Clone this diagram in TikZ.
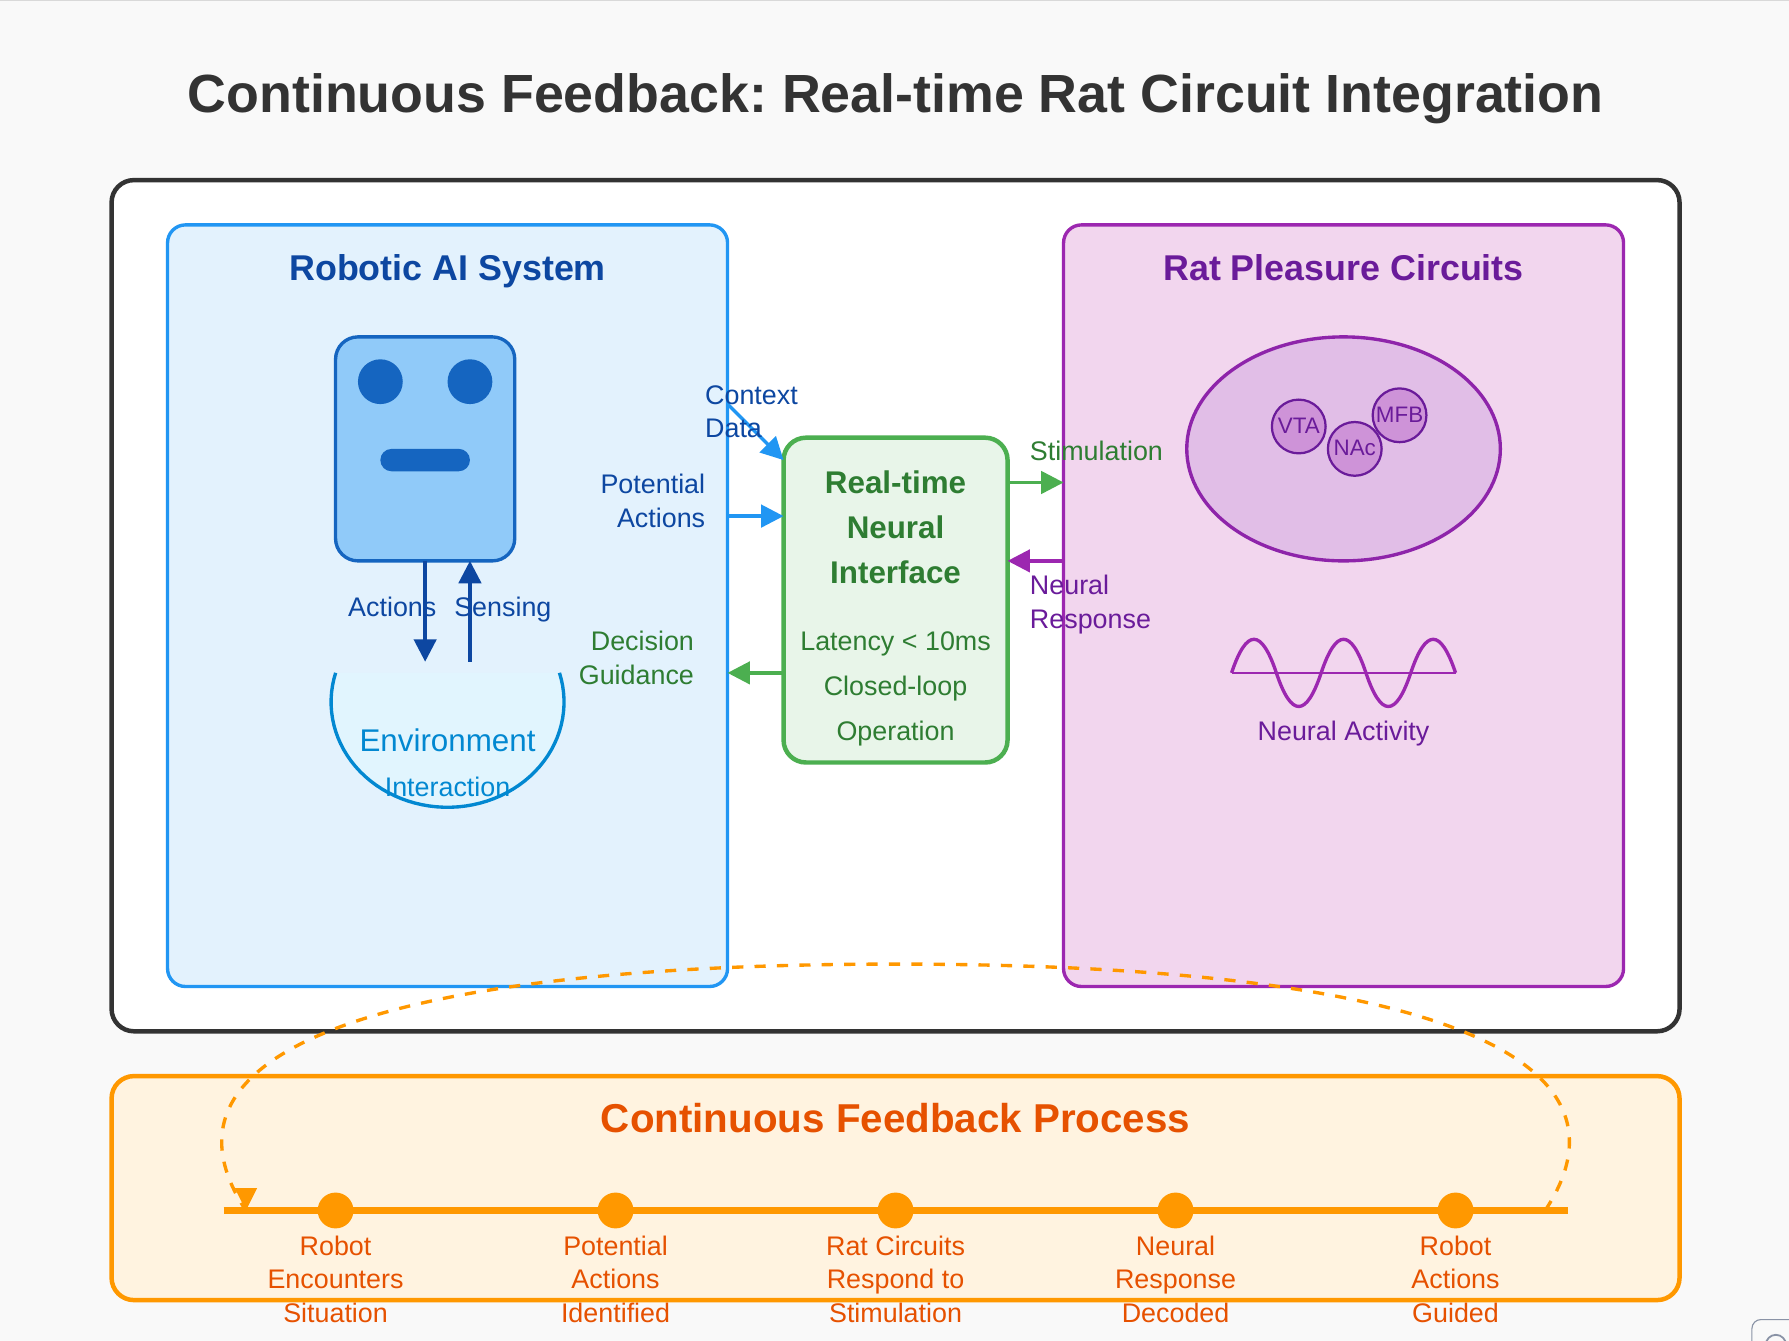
\documentclass[tikz,border=0pt]{standalone}
\usepackage{fontspec}
\setmainfont{Liberation Sans}
\frenchspacing
\usetikzlibrary{arrows.meta,shapes.geometric}
\definecolor{pageBg}{HTML}{F9F9F9}
\definecolor{darkLine}{HTML}{333333}
\definecolor{blueFill}{HTML}{E3F2FD}
\definecolor{blueLine}{HTML}{2196F3}
\definecolor{blueDark}{HTML}{0D47A1}
\definecolor{robotFill}{HTML}{90CAF9}
\definecolor{robotLine}{HTML}{1565C0}
\definecolor{envFill}{HTML}{E1F5FE}
\definecolor{envLine}{HTML}{0288D1}
\definecolor{pinkFill}{HTML}{F2D6EE}
\definecolor{pinkLine}{HTML}{9C27B0}
\definecolor{pinkDark}{HTML}{6A1B9A}
\definecolor{brainFill}{HTML}{E1BEE7}
\definecolor{brainLine}{HTML}{8E24AA}
\definecolor{spotFill}{HTML}{CE93D8}
\definecolor{greenFill}{HTML}{E8F5E9}
\definecolor{greenLine}{HTML}{4CAF50}
\definecolor{greenDark}{HTML}{2E7D32}
\definecolor{orangeFill}{HTML}{FFF3E0}
\definecolor{orangeLine}{HTML}{FF9800}
\definecolor{orangeDark}{HTML}{E65100}
\definecolor{btnLine}{HTML}{8A93A6}
\tikzset{
  txt/.style={anchor=base,inner sep=0pt,outer sep=0pt,align=center},
  box/.style={rectangle,draw,outer sep=0pt,inner sep=0pt,line width=2pt,rounded corners=#1},
  flow/.style={line width=1.5pt,-{Triangle[length=10pt,width=10pt]}},
  spot/.style={circle,draw=pinkDark,fill=spotFill,line width=1pt,minimum size=24pt,inner sep=0pt,outer sep=0pt},
  stage/.style={circle,fill=orangeLine,minimum size=16pt,inner sep=0pt,outer sep=0pt},
  stagetxt/.style={txt,text=orangeDark,font=\fontsize{12}{15}\selectfont}
}
\begin{document}
\begin{tikzpicture}[x=1pt,y=-1pt]
\fill[pageBg] (0.2,-0.4) rectangle (798.86,598.26);
\useasboundingbox (0.2,-0.4) rectangle (798.86,598.26);
\fill[gray!30] (0.2,-0.4) rectangle (798.86,0);
\node[txt,text=darkLine,font=\fontsize{24}{29}\selectfont\bfseries] (title) at (400,50) {Continuous Feedback: Real-time Rat Circuit Integration};
% main frame and the two panels
\node[box=10pt,draw=darkLine,fill=white,minimum width=700pt,minimum height=380pt] (frame) at (400,270) {};
\node[box=8pt,draw=blueLine,fill=blueFill,line width=1.5pt,minimum width=250pt,minimum height=340pt] (ai) at (200,270) {};
\node[box=8pt,draw=pinkLine,fill=pinkFill,line width=1.5pt,minimum width=250pt,minimum height=340pt] (rat) at (600,270) {};
\node[txt,text=blueDark,font=\fontsize{16}{19}\selectfont\bfseries] (aititle) at (200,125) {Robotic AI System};
\node[txt,text=pinkDark,font=\fontsize{16}{19}\selectfont\bfseries] (rattitle) at (600,125) {Rat Pleasure Circuits};
% robot
\node[box=10pt,draw=robotLine,fill=robotFill,line width=1.5pt,minimum width=80pt,minimum height=100pt] (robot) at (190,200) {};
\fill[robotLine] (170,170) circle (10);
\fill[robotLine] (210,170) circle (10);
\node[rectangle,fill=robotLine,rounded corners=5pt,minimum width=40pt,minimum height=10pt,inner sep=0pt,outer sep=0pt] (mouth) at (190,205) {};
% environment
\path[fill=envFill] plot[domain=196.1:-16.1,samples=60] ({200+52*cos(\x)},{313+47*sin(\x)}) -- cycle;
\draw[envLine,line width=1.5pt] plot[domain=196.1:-16.1,samples=60] ({200+52*cos(\x)},{313+47*sin(\x)});
\node[txt,text=envLine,font=\fontsize{14}{17}\selectfont] (envname) at (200,335) {Environment};
\node[txt,text=envLine,font=\fontsize{12}{15}\selectfont] (envsub) at (200,355) {Interaction};
\coordinate (acts) at (190,295);
\coordinate (sens) at (210,295);
\draw[flow,blueDark] (acts |- robot.south) -- (acts);
\draw[flow,blueDark] (sens) -- (sens |- robot.south);
\node[txt,anchor=base east,text=blueDark,font=\fontsize{12}{15}\selectfont] (actslbl) at (195,275) {Actions};
\node[txt,anchor=base west,text=blueDark,font=\fontsize{12}{15}\selectfont] (senslbl) at (203,275) {Sensing};
% brain
\node[ellipse,draw=brainLine,fill=brainFill,line width=1.5pt,minimum width=140pt,minimum height=100pt,inner sep=0pt,outer sep=0pt] (brain) at (600,200) {};
\node[spot] (vta) at (580,190) {};
\node[spot] (nac) at (605,200) {};
\node[spot] (mfb) at (625,185) {};
\foreach \nm/\xx/\yy/\tt in {vtalbl/580/193/VTA,naclbl/605/203/NAc,mfblbl/625/188/MFB}
  \node[txt,text=pinkDark,font=\fontsize{10}{12}\selectfont] (\nm) at (\xx,\yy) {\tt};
% wave
\draw[pinkLine,line width=1pt] (550,300) -- (650,300);
\draw[pinkLine,line width=1.5pt,line join=round] (550,300)
  .. controls (556.67,280) and (563.33,280) .. (570,300)
  .. controls (576.67,320) and (583.33,320) .. (590,300)
  .. controls (596.67,280) and (603.33,280) .. (610,300)
  .. controls (616.67,320) and (623.33,320) .. (630,300)
  .. controls (636.67,280) and (643.33,280) .. (650,300);
\node[txt,text=pinkDark,font=\fontsize{12}{15}\selectfont] (wavelbl) at (600,330) {Neural Activity};
% interface
\node[box=10pt,draw=greenLine,fill=greenFill,minimum width=100pt,minimum height=145pt] (iface) at (400,267.5) {};
\node[txt,text=greenDark,font=\fontsize{14}{20}\selectfont\bfseries] (ifacename) at (400,260) {Real-time\\Neural\\Interface};
\node[txt,text=greenDark,font=\fontsize{12}{20}\selectfont] (ifacenote) at (400,330) {Latency < 10ms\\Closed-loop\\Operation};
% connectors
\coordinate (ctxa) at (325,180);
\coordinate (ctxb) at (350,205);
\coordinate (pota) at (325,230);
\coordinate (gdea) at (325,300);
\coordinate (stma) at (475,215);
\coordinate (resa) at (475,250);
\draw[flow,blueLine] (ctxa) -- (ctxb);
\draw[flow,blueLine] (ai.east |- pota) -- (iface.west |- pota);
\draw[flow,greenLine] (iface.west |- gdea) -- (ai.east |- gdea);
\draw[flow,greenLine] (iface.east |- stma) -- (rat.west |- stma);
\draw[flow,pinkLine] (rat.west |- resa) -- (iface.east |- resa);
\node[txt,anchor=base west,align=left,text=blueDark,font=\fontsize{12}{15}\selectfont] (ctxlbl) at (315,195) {Context\\Data};
\node[txt,anchor=base east,align=right,text=blueDark,font=\fontsize{12}{15}\selectfont] (potlbl) at (315,235) {Potential\\Actions};
\node[txt,anchor=base east,align=right,text=greenDark,font=\fontsize{12}{15}\selectfont] (gdelbl) at (310,305) {Decision\\Guidance};
\node[txt,anchor=base west,text=greenDark,font=\fontsize{12}{15}\selectfont] (stmlbl) at (460,205) {Stimulation};
\node[txt,anchor=base west,align=left,text=pinkDark,font=\fontsize{12}{15}\selectfont] (reslbl) at (460,280) {Neural\\Response};
% feedback process
\node[box=10pt,draw=orangeLine,fill=orangeFill,minimum width=700pt,minimum height=100pt] (proc) at (400,530) {};
\node[txt,text=orangeDark,font=\fontsize{18}{22}\selectfont\bfseries] (proctitle) at (400,505) {Continuous Feedback Process};
\coordinate (linea) at (100,540);
\coordinate (lineb) at (700,540);
\draw[orangeLine,line width=3pt] (linea) -- (lineb);
\foreach \nm/\xx in {s1/150,s2/275,s3/400,s4/525,s5/650}
  \node[stage] (\nm) at (\xx,540) {};
\node[stagetxt] (s1lbl) at (150,590) {Robot\\Encounters\\Situation};
\node[stagetxt] (s2lbl) at (275,590) {Potential\\Actions\\Identified};
\node[stagetxt] (s3lbl) at (400,590) {Rat Circuits\\Respond to\\Stimulation};
\node[stagetxt] (s4lbl) at (525,590) {Neural\\Response\\Decoded};
\node[stagetxt] (s5lbl) at (650,590) {Robot\\Actions\\Guided};
% return loop
\coordinate (loopa) at (690,540);
\coordinate (looptop) at (400,430);
\coordinate (loopb) at (110,540);
\draw[orangeLine,line width=1.5pt,dash pattern=on 5pt off 5pt] (loopa)
  .. controls (735,472) and (640,430) .. (looptop)
  .. controls (160,430) and (65,472) .. (loopb);
\fill[orangeLine] (loopb) -- ++(-5,-10) -- ++(10,0) -- cycle;
% corner button of the screenshot
\draw[btnLine,line width=0.5pt,rounded corners=4pt] (782.3,588.7) rectangle (810,620);
\draw[btnLine,line width=0.8pt] (793,600) circle (4.5);
\end{tikzpicture}
\end{document}
